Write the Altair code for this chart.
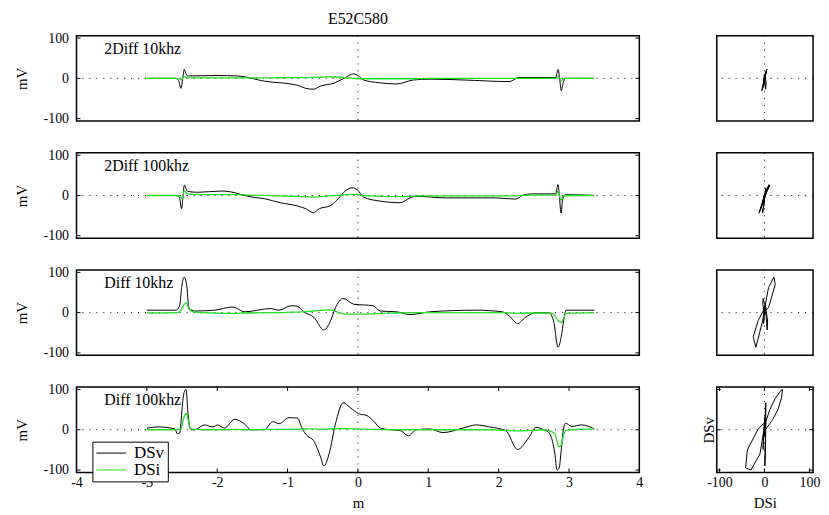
import altair as alt
import pandas as pd

TITLE = "E52C580"
ROW_LABELS = ["2Diff 10khz", "2Diff 100khz", "Diff 10khz", "Diff 100khz"]
SERIES = ["DSv", "DSi"]
COLORS = ["#000000", "#22dd22"]
X_TICKS = [-4, -3, -2, -1, 0, 1, 2, 3, 4]
Y_TICKS = [-100, 0, 100]
XY_TICKS = [-100, 0, 100]

# ---- data (position in m, DSv and DSi in mV) ----
POS_1 = [-3.00, -2.59, -2.55, -2.515, -2.49, -2.468, -2.44, -2.41, -2.00, -1.71, -1.33, -0.86, -0.74, -0.635,
         -0.53, -0.34, -0.20, -0.06, 0.00, 0.08, 0.31, 0.55, 0.79, 1.02, 1.49, 2.15, 2.29, 2.81, 2.845, 2.87,
         2.89, 2.92, 2.95, 3.36]
DSV_1 = [0, 0, -5, -25, 0, 22, 10, 6, 7, 6, -7, -17, -25, -27, -19, -12, 0, 11, 7, -4,
         -11, -14, -4, -2, -4, -8, 2, 2, 22, -5, -31, -10, 0, 0]
DSI_1 = [0, 0, -1, -4, 1, 5, 2, 1, 1, 1, 1, 2, 2, 3, 3, 4, 2, 0, -1, -1,
         -1, -1, -1, 0, 0, 0, 0, 0, 5, 0, -6, -2, 0, 0]

POS_2 = [-3.00, -2.59, -2.54, -2.506, -2.485, -2.468, -2.421, -2.27, -1.94, -1.75, -1.57, -1.33, -1.10, -0.86,
         -0.74, -0.635, -0.55, -0.39, -0.30, -0.20, -0.085, -0.014, 0.08, 0.315, 0.60, 0.74, 0.83, 1.26, 1.96,
         2.24, 2.34, 2.48, 2.81, 2.844, 2.865, 2.887, 2.91, 2.95, 3.36]
DSV_2 = [0, 0, -3, -33, 0, 26, 10, 8, 11, 7, -2, -8, -18, -26, -33, -43, -33, -25, -12, 8,
         19, 15, -4, -14, -18, -6, -2, -6, -6, -9, 0, 4, 4, 27, -5, -44, -10, 2, 0]
DSI_2 = [0, 0, -1, -8, 2, 12, 4, 2, 2, 2, 1, 0, -1, -2, -3, -4, -3, -1, 0, 2,
         3, 3, 0, -2, -3, -2, -1, -1, -1, -1, 0, 1, 1, 10, 0, -12, -3, 0, 0]

POS_3 = [-3.00, -2.58, -2.53, -2.506, -2.468, -2.435, -2.402, -2.32, -2.04, -1.78, -1.61, -1.24, -1.12, -0.95,
         -0.86, -0.77, -0.625, -0.484, -0.39, -0.32, -0.21, -0.06, 0.22, 0.315, 0.55, 0.74, 1.02, 1.68, 2.05,
         2.15, 2.27, 2.38, 2.53, 2.71, 2.78, 2.844, 2.89, 2.924, 2.957, 3.36]
DSV_3 = [6, 6, 20, 62, 88, 70, 12, 4, 6, 14, 2, 10, 6, 17, 16, 2, -12, -43, -21, 12,
         35, 21, 17, 4, 2, -5, 2, 6, 2, -8, -27, -12, 0, 0, -20, -86, -60, -20, 6, 6]
DSI_3 = [-1, 0, 2, 9, 21, 24, 9, 1, -1, -2, -1, 0, 0, 1, 1, 2, 4, 6, 7, 3,
         -3, -4, -3, -2, -1, 0, 0, 0, 0, -1, -2, -1, -1, -1, -4, -19, -25, -14, -2, 0]

POS_4 = [-3.00, -2.84, -2.60, -2.567, -2.53, -2.515, -2.50, -2.485, -2.465, -2.445, -2.43, -2.42, -2.405,
         -2.39, -2.37, -2.32, -2.18, -2.06, -1.99, -1.90, -1.75, -1.61, -1.52, -1.33, -1.21, -1.12, -0.98,
         -0.86, -0.79, -0.72, -0.63, -0.53, -0.484, -0.41, -0.32, -0.21, -0.11, 0.01, 0.13, 0.22, 0.32, 0.46,
         0.60, 0.72, 0.83, 1.02, 1.21, 1.49, 1.68, 1.87, 2.10, 2.27, 2.43, 2.53, 2.64, 2.71, 2.80, 2.83, 2.86,
         2.89, 2.92, 2.95, 3.04, 3.18, 3.36]
DSV_4 = [4, 7, 2, -10, -8, 20, 50, 78, 95, 100, 80, 50, 25, 6, 0, 0, 12, 7, 12, 4,
         26, 14, 0, 0, 20, 15, 30, 29, 2, -15, -27, -68, -90, -60, 14, 67, 55, 40, 35, 22,
         4, 0, -2, -15, 0, 2, -7, 4, 12, 7, -2, -49, -19, 6, 0, -6, -60, -100, -95, -50,
         0, 16, 8, 12, 2]
DSI_4 = [0, 0, 0, 1, 1, 3, 12, 24, 35, 40, 38, 30, 18, 6, 2, 1, 0, 0, 0, 0,
         1, 0, 0, 1, 1, 1, 1, 1, 2, 2, 2, 1, 1, 2, 3, 3, 2, 2, 1, 1,
         1, 0, 0, 0, 0, 0, 0, 0, 0, 0, -2, -3, -2, -1, 0, -2, -10, -30, -42, -38,
         -15, -2, 0, 1, 2]

ROWS = [(POS_1, DSV_1, DSI_1), (POS_2, DSV_2, DSI_2), (POS_3, DSV_3, DSI_3), (POS_4, DSV_4, DSI_4)]

# ---- layout / style ----
FONT = "Liberation Serif"
W_L, W_R, H = 567, 97, 86
X_DOM, Y_DOM = [-4, 4], [-106, 106]
XR_DOM, YR_DOM = [-106, 108], [-106, 106]
TICK_PX = 4
DOT = [1, 6]
HYPHEN = "datum.value < 0 ? '-' + abs(datum.value) : '' + datum.value"


def left_panel(i, pos, dsv, dsi, last):
    n = len(pos)
    df = pd.DataFrame({"pos": list(pos) * 2, "value": list(dsv) + list(dsi),
                       "series": ["DSv"] * n + ["DSi"] * n})
    xaxis = alt.Axis(values=X_TICKS, title="m", labelPadding=3, titlePadding=6, labelFlush=False,
                     labelExpr=HYPHEN) if last else None
    X = alt.X("pos:Q", scale=alt.Scale(domain=X_DOM, nice=False, zero=False), axis=xaxis)
    Y = alt.Y("value:Q", scale=alt.Scale(domain=Y_DOM, nice=False, zero=False),
              axis=alt.Axis(values=Y_TICKS, title="mV", labelPadding=8, titlePadding=14,
                            labelFlush=False, labelExpr=HYPHEN))
    if last:
        legend = alt.Legend(orient="none", legendX=16, legendY=55, title=None,
                            symbolType="M-1,0L3,0", symbolSize=225, symbolStrokeWidth=1,
                            labelFont=FONT, labelFontSize=17, labelColor="black", rowPadding=-20,
                            padding=3, strokeColor="black", fillColor="white", labelOffset=22)
    else:
        legend = None
    C = alt.Color("series:N", scale=alt.Scale(domain=SERIES, range=COLORS), legend=legend)

    zero_h = alt.Chart(pd.DataFrame({"value": [0]})).mark_rule(
        color="black", strokeDash=DOT, strokeWidth=1).encode(y=Y)
    zero_v = alt.Chart(pd.DataFrame({"pos": [0]})).mark_rule(
        color="black", strokeDash=DOT, strokeWidth=1).encode(x=X)

    dx = TICK_PX * (X_DOM[1] - X_DOM[0]) / W_L
    dy = TICK_PX * (Y_DOM[1] - Y_DOM[0]) / H
    tk = []
    for v in Y_TICKS:
        tk.append({"pos": X_DOM[0], "pos2": X_DOM[0] + dx, "value": v, "value2": v})
        tk.append({"pos": X_DOM[1], "pos2": X_DOM[1] - dx, "value": v, "value2": v})
    if last:
        for v in X_TICKS:
            tk.append({"pos": v, "pos2": v, "value": Y_DOM[0], "value2": Y_DOM[0] + dy})
            tk.append({"pos": v, "pos2": v, "value": Y_DOM[1], "value2": Y_DOM[1] - dy})
    ticks = alt.Chart(pd.DataFrame(tk)).mark_rule(color="black", strokeWidth=1).encode(
        x=X, x2="pos2:Q", y=Y, y2="value2:Q")

    base = alt.Chart(df)
    black = base.transform_filter(alt.datum.series == "DSv").mark_line(
        strokeWidth=1, interpolate="monotone").encode(x=X, y=Y, color=C)
    green = base.transform_filter(alt.datum.series == "DSi").mark_line(
        strokeWidth=1.3, interpolate="monotone").encode(x=X, y=Y, color=C)
    label = alt.Chart(pd.DataFrame({"t": [ROW_LABELS[i]]})).mark_text(
        align="left", baseline="alphabetic", font=FONT, fontSize=16, color="black").encode(
        x=alt.value(28), y=alt.value(18), text="t:N")

    layer = alt.layer(zero_h, zero_v, ticks, black, green, label).properties(width=W_L, height=H)
    if i == 0:
        layer = layer.properties(title=alt.Title(TITLE, font=FONT, fontSize=16, fontWeight="normal",
                                                 color="black", anchor="middle", frame="group", offset=4))
    return layer


def right_panel(pos, dsv, dsi, last):
    df = pd.DataFrame({"dsi": dsi, "dsv": dsv, "idx": list(range(len(pos)))})
    xaxis = alt.Axis(values=XY_TICKS, title="DSi", labelPadding=3, titlePadding=6, labelFlush=False,
                     labelExpr=HYPHEN) if last else None
    yaxis = alt.Axis(values=XY_TICKS, labels=False, title="DSv", titlePadding=0,
                     labelPadding=0) if last else None
    X = alt.X("dsi:Q", scale=alt.Scale(domain=XR_DOM, nice=False, zero=False), axis=xaxis)
    Y = alt.Y("dsv:Q", scale=alt.Scale(domain=YR_DOM, nice=False, zero=False), axis=yaxis)
    zero_h = alt.Chart(pd.DataFrame({"dsv": [0]})).mark_rule(
        color="black", strokeDash=DOT, strokeWidth=1).encode(y=Y)
    zero_v = alt.Chart(pd.DataFrame({"dsi": [0]})).mark_rule(
        color="black", strokeDash=DOT, strokeWidth=1).encode(x=X)
    loop = alt.Chart(df).mark_line(color="black", strokeWidth=1).encode(
        x=X, y=Y, order=alt.Order("idx:Q"))
    layers = [zero_h, zero_v, loop]
    if last:
        dx = TICK_PX * (XR_DOM[1] - XR_DOM[0]) / W_R
        dy = TICK_PX * (YR_DOM[1] - YR_DOM[0]) / H
        tk = []
        for v in XY_TICKS:
            tk.append({"dsi": v, "dsi2": v, "dsv": YR_DOM[0], "dsv2": YR_DOM[0] + dy})
            tk.append({"dsi": v, "dsi2": v, "dsv": YR_DOM[1], "dsv2": YR_DOM[1] - dy})
            tk.append({"dsi": XR_DOM[0], "dsi2": XR_DOM[0] + dx, "dsv": v, "dsv2": v})
            tk.append({"dsi": XR_DOM[1], "dsi2": XR_DOM[1] - dx, "dsv": v, "dsv2": v})
        ticks = alt.Chart(pd.DataFrame(tk)).mark_rule(color="black", strokeWidth=1).encode(
            x=X, x2="dsi2:Q", y=Y, y2="dsv2:Q")
        layers.insert(2, ticks)
    return alt.layer(*layers).properties(width=W_R, height=H)


cells = []
for i, (p, v, c) in enumerate(ROWS):
    last = i == len(ROWS) - 1
    cells.append(left_panel(i, p, v, c, last))
    cells.append(right_panel(p, v, c, last))

chart = alt.concat(*cells, columns=2, spacing={"row": 32, "column": 78}, bounds="flush",
                   align="each").resolve_scale(
    color="independent", x="independent", y="independent").properties(
    padding={"left": 5, "top": 0, "right": 0, "bottom": 0}
).configure_view(stroke="black", strokeWidth=1.5).configure_axis(
    labelFont=FONT, labelFontSize=14, labelColor="black", titleFont=FONT, titleFontSize=15,
    titleFontWeight="normal", titleColor="black", domain=False, ticks=False, grid=False
)

chart.save("out.html", embed_options={"renderer": "svg", "actions": False})
